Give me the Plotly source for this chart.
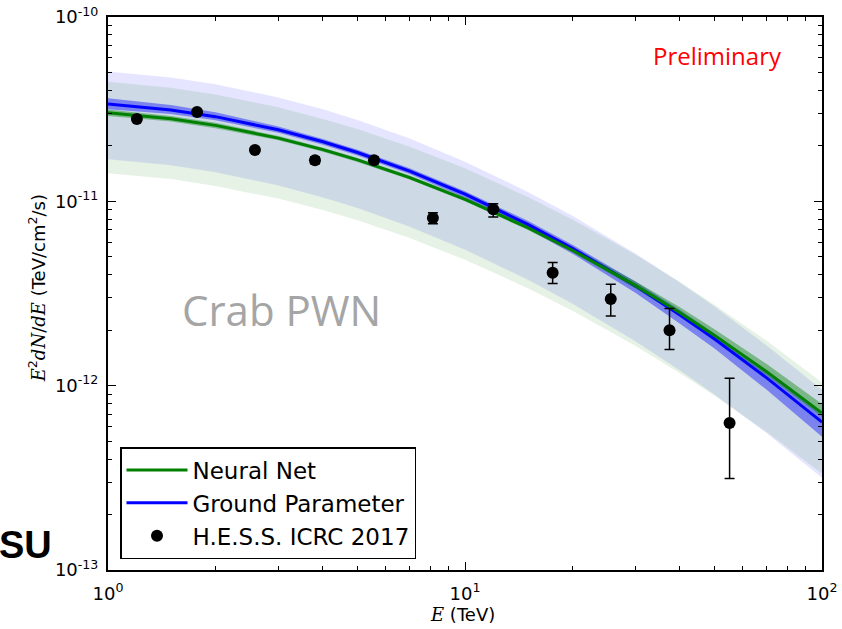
import plotly.graph_objects as go

# ---- H.E.S.S. Crab flux points (E in TeV, E^2 dN/dE in TeV/cm^2/s) ----
hess_energy = [1.205, 1.776, 2.58, 3.80, 5.56, 8.13, 12.0, 17.6, 25.6, 37.4, 55.1]
hess_flux = [2.80e-11, 3.05e-11, 1.90e-11, 1.67e-11, 1.67e-11, 8.11e-12,
             9.06e-12, 4.10e-12, 2.95e-12, 2.00e-12, 6.27e-13]
hess_err_hi = [0.08e-11, 0.08e-11, 0.06e-11, 0.07e-11, 0.07e-11, 0.55e-12,
               0.65e-12, 0.56e-12, 0.60e-12, 0.62e-12, 4.7e-13]
hess_err_lo = [0.08e-11, 0.08e-11, 0.06e-11, 0.07e-11, 0.07e-11, 0.55e-12,
               0.85e-12, 0.52e-12, 0.56e-12, 0.43e-12, 3.13e-13]

# ---- sampled model spectra ----
model_energy = [1, 1.5, 2, 3, 4, 5, 7, 10, 15, 20, 30, 40, 50, 70, 100]

nn_flux = [3.027e-11, 2.807e-11, 2.583e-11, 2.203e-11, 1.908e-11, 1.679e-11,
           1.346e-11, 1.026e-11, 7.19e-12, 5.43e-12, 3.50e-12, 2.484e-12,
           1.874e-12, 1.191e-12, 7.10e-13]
nn_stat_hi = [3.15e-11, 2.900e-11, 2.670e-11, 2.260e-11, 1.955e-11, 1.720e-11,
              1.380e-11, 1.053e-11, 7.43e-12, 5.65e-12, 3.68e-12, 2.66e-12,
              2.025e-12, 1.310e-12, 7.95e-13]
nn_stat_lo = [2.900e-11, 2.710e-11, 2.495e-11, 2.145e-11, 1.860e-11, 1.636e-11,
              1.312e-11, 1.000e-11, 6.99e-12, 5.28e-12, 3.37e-12, 2.39e-12,
              1.805e-12, 1.135e-12, 6.78e-13]
nn_sys_hi = [4.45e-11, 4.13e-11, 3.80e-11, 3.24e-11, 2.80e-11, 2.47e-11,
             1.98e-11, 1.51e-11, 1.057e-11, 7.98e-12, 5.15e-12, 3.65e-12,
             2.75e-12, 1.75e-12, 1.04e-12]
nn_sys_lo = [1.42e-11, 1.32e-11, 1.21e-11, 1.035e-11, 8.97e-12, 7.89e-12,
             6.33e-12, 4.82e-12, 3.38e-12, 2.55e-12, 1.645e-12, 1.167e-12,
             8.81e-13, 5.60e-13, 3.34e-13]

gp_flux = [3.373e-11, 3.133e-11, 2.880e-11, 2.443e-11, 2.104e-11, 1.840e-11,
           1.458e-11, 1.094e-11, 7.50e-12, 5.56e-12, 3.48e-12, 2.42e-12,
           1.791e-12, 1.103e-12, 6.34e-13]
gp_stat_hi = [3.62e-11, 3.33e-11, 3.04e-11, 2.545e-11, 2.180e-11, 1.905e-11,
              1.510e-11, 1.134e-11, 7.84e-12, 5.82e-12, 3.67e-12, 2.57e-12,
              1.920e-12, 1.195e-12, 6.93e-13]
gp_stat_lo = [3.16e-11, 2.975e-11, 2.755e-11, 2.355e-11, 2.030e-11, 1.775e-11,
              1.405e-11, 1.045e-11, 7.08e-12, 5.20e-12, 3.19e-12, 2.17e-12,
              1.590e-12, 9.50e-13, 5.28e-13]
gp_sys_hi = [5.06e-11, 4.70e-11, 4.32e-11, 3.66e-11, 3.16e-11, 2.76e-11,
             2.19e-11, 1.64e-11, 1.125e-11, 8.34e-12, 5.22e-12, 3.63e-12,
             2.69e-12, 1.65e-12, 9.51e-13]
gp_sys_lo = [1.69e-11, 1.57e-11, 1.44e-11, 1.22e-11, 1.05e-11, 9.20e-12,
             7.29e-12, 5.47e-12, 3.75e-12, 2.78e-12, 1.74e-12, 1.21e-12,
             8.96e-13, 5.52e-13, 3.17e-13]

x_tick_vals = [1, 10, 100]
x_tick_text = ["10<sup>0</sup>", "10<sup>1</sup>", "10<sup>2</sup>"]
y_tick_vals = [1e-13, 1e-12, 1e-11, 1e-10]
y_tick_text = ["10<sup>-13</sup>", "10<sup>-12</sup>", "10<sup>-11</sup>", "10<sup>-10</sup>"]

GREEN = "rgb(0,128,0)"
BLUE = "rgb(0,0,255)"
FONT = "DejaVu Sans"


def band(upper, lower, color):
    return go.Scatter(
        x=model_energy + model_energy[::-1],
        y=upper + lower[::-1],
        fill="toself", fillcolor=color, mode="lines",
        line=dict(width=0, color=color),
        hoverinfo="skip", showlegend=False,
    )


fig = go.Figure()
# broad (systematic) bands
fig.add_trace(band(gp_sys_hi, gp_sys_lo, "rgba(0,0,255,0.10)"))
fig.add_trace(band(nn_sys_hi, nn_sys_lo, "rgba(0,128,0,0.10)"))
# narrow (statistical) bands
fig.add_trace(band(gp_stat_hi, gp_stat_lo, "rgba(0,0,255,0.40)"))
fig.add_trace(band(nn_stat_hi, nn_stat_lo, "rgba(0,128,0,0.40)"))

# best-fit curves
fig.add_trace(go.Scatter(x=model_energy, y=gp_flux, mode="lines", name="Ground Parameter",
                         line=dict(color=BLUE, width=3), legendrank=2))
fig.add_trace(go.Scatter(x=model_energy, y=nn_flux, mode="lines", name="Neural Net",
                         line=dict(color=GREEN, width=3), legendrank=1))

# flux points
fig.add_trace(go.Scatter(
    x=hess_energy, y=hess_flux, mode="markers", name="H.E.S.S. ICRC 2017",
    marker=dict(color="black", size=12),
    error_y=dict(type="data", symmetric=False, array=hess_err_hi, arrayminus=hess_err_lo,
                 color="black", thickness=1.5, width=5),
    legendrank=3,
))

minor_x = [m * 10 ** d for d in range(0, 2) for m in range(2, 10)]
minor_y = [m * 10.0 ** d for d in range(-13, -10) for m in range(2, 10)]

axis_common = dict(
    type="log", showgrid=False, zeroline=False, automargin=False,
    showline=True, linecolor="black", linewidth=2, mirror="allticks",
    ticks="inside", ticklen=8, tickwidth=1, tickcolor="black",
    tickfont=dict(family=FONT, size=18, color="black"),
    tickmode="array",
)

fig.update_xaxes(
    **axis_common, range=[0, 2], tickvals=x_tick_vals, ticktext=x_tick_text,
    minor=dict(tickmode="array", tickvals=minor_x, ticks="inside", ticklen=4,
               tickwidth=1, tickcolor="black"),
    ticklabelstandoff=6,
)
fig.update_yaxes(
    **axis_common, range=[-13, -10], tickvals=y_tick_vals, ticktext=y_tick_text,
    minor=dict(tickmode="array", tickvals=minor_y, ticks="inside", ticklen=4,
               tickwidth=1, tickcolor="black"),
    ticklabelstandoff=4,
)

ital = "<span style=\"font-family:'DejaVu Serif'\"><i>{}</i></span>"
fig.add_annotation(
    text=ital.format("E") + "<sup>2</sup>" + ital.format("dN") + "/" + ital.format("dE")
    + " (TeV/cm<sup>2</sup>/s)",
    xref="paper", yref="paper", x=-0.099, y=0.51, textangle=-90,
    showarrow=False, font=dict(family=FONT, size=18, color="black"),
    xanchor="center", yanchor="middle",
)
fig.add_annotation(
    text=ital.format("E") + " (TeV)",
    xref="paper", yref="paper", x=0.496, y=-0.08,
    showarrow=False, font=dict(family=FONT, size=18, color="black"),
    xanchor="center", yanchor="middle",
)
fig.add_annotation(
    text="Crab PWN", xref="paper", yref="paper", x=(281 - 108) / 714, y=(570 - 309) / 553,
    showarrow=False, font=dict(family="Open Sans", size=42, color="rgb(165,165,165)"),
    xanchor="center", yanchor="middle",
)
fig.add_annotation(
    text="Preliminary", xref="paper", yref="paper", x=(717 - 108) / 714, y=(570 - 56) / 553,
    showarrow=False, font=dict(family="Open Sans", size=24, color="rgb(255,0,0)"),
    xanchor="center", yanchor="middle",
)
fig.add_annotation(
    text="<b>SU</b>", xref="paper", yref="paper", x=(-3 - 108) / 714, y=(570 - 545) / 553,
    showarrow=False, font=dict(family="Liberation Sans", size=38, color="black"),
    xanchor="left", yanchor="middle",
)

fig.update_layout(
    width=842, height=629,
    margin=dict(l=108, r=20, t=17, b=59),
    plot_bgcolor="white", paper_bgcolor="white",
    font=dict(family=FONT, color="black"),
    legend=dict(
        x=(120 - 108) / 714, y=(570 - 559) / 553, xanchor="left", yanchor="bottom",
        bgcolor="white", bordercolor="black", borderwidth=1.5,
        font=dict(family=FONT, size=23, color="black"),
        itemwidth=61,
    ),
)

fig.write_html("out.html")
